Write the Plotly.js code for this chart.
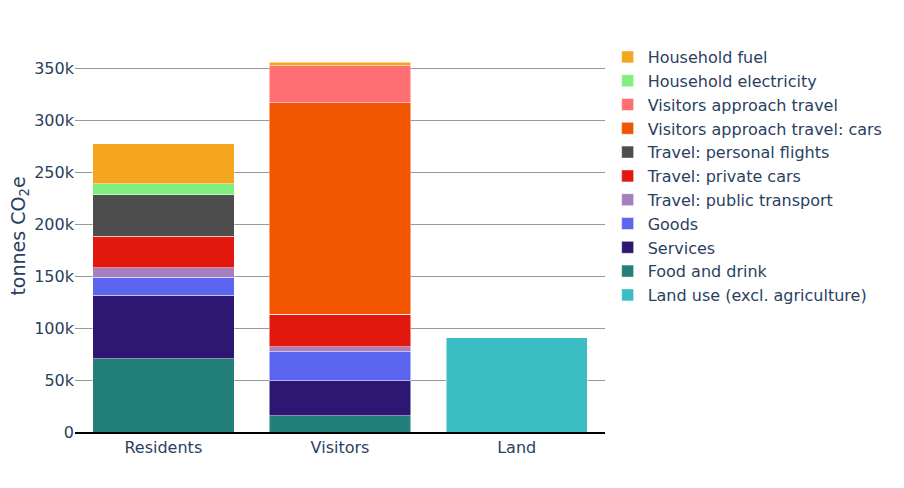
<!DOCTYPE html>
<html><head><meta charset="utf-8">
<script src="https://cdn.plot.ly/plotly-3.0.1.min.js"></script>
<style>html,body{margin:0;padding:0;background:#fff}</style>
</head><body><div id="chart" style="width:904px;height:488px"></div>
<script>
const categories = ["Residents", "Visitors", "Land"];
const landUse = [0, 0, 90.6e3];
const foodDrink = [70.5e3, 15.8e3, 0];
const services = [61e3, 33.6e3, 0];
const goods = [17.3e3, 27.8e3, 0];
const publicTransport = [9.2e3, 4.6e3, 0];
const privateCars = [30.4e3, 31.6e3, 0];
const personalFlights = [40e3, 0, 0];
const visitorsCars = [0, 203.3e3, 0];
const visitorsApproach = [0, 35.5e3, 0];
const householdElectricity = [10.5e3, 0, 0];
const householdFuel = [38.4e3, 3.5e3, 0];

const seriesNames = ["Land use (excl. agriculture)", "Food and drink", "Services", "Goods",
  "Travel: public transport", "Travel: private cars", "Travel: personal flights",
  "Visitors approach travel: cars", "Visitors approach travel", "Household electricity", "Household fuel"];
const seriesValues = [landUse, foodDrink, services, goods, publicTransport, privateCars,
  personalFlights, visitorsCars, visitorsApproach, householdElectricity, householdFuel];
const seriesColors = ["#3ABEC4", "#237F7A", "#2E1673", "#5C65F0", "#A77FC0", "#E2180E",
  "#4D4D4D", "#F25500", "#FF6E73", "#80EE80", "#F4A621"];

const traces = seriesNames.map((n, i) => ({
  type: "bar", name: n, x: categories, y: seriesValues[i],
  marker: {color: seriesColors[i], line: {color: "rgba(255,255,255,0.7)", width: 0.7}},
  hoverinfo: "x+y+name"
}));

const layout = {
  width: 904, height: 488,
  barmode: "stack", bargap: 0.2,
  paper_bgcolor: "#fff", plot_bgcolor: "#fff",
  font: {family: "DejaVu Sans, Verdana, sans-serif", color: "#2a3f5f", size: 16},
  margin: {l: 75, r: 299, t: 40, b: 56},
  showlegend: true,
  legend: {traceorder: "reversed", x: 1.005, y: 1.0, xanchor: "left", yanchor: "top",
    font: {size: 16}, bgcolor: "rgba(0,0,0,0)"},
  xaxis: {showline: true, linecolor: "#000", linewidth: 1.5, ticks: "", showgrid: false,
    tickfont: {size: 16}},
  yaxis: {title: {text: "tonnes CO<sub>2</sub>e", font: {size: 19}}, showgrid: true,
    gridcolor: "#9a9a9a", gridwidth: 1, zeroline: false, ticks: "",
    tickfont: {size: 16}, range: [0, 377e3], dtick: 50e3}
};
Plotly.newPlot("chart", traces, layout, {displayModeBar: false});
</script></body></html>
